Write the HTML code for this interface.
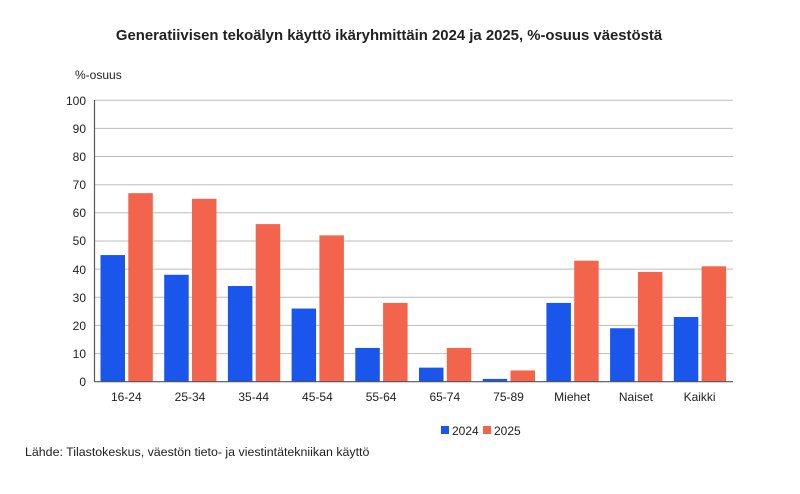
<!DOCTYPE html>
<html><head><style>
body{margin:0;background:#fff;}
svg text{font-family:"Liberation Sans",Arial,sans-serif;fill:#222;}
</style></head><body>
<svg width="800" height="489" viewBox="0 0 800 489">
<rect width="800" height="489" fill="#fff"/>
<text x="389" y="40" text-anchor="middle" font-size="14.9" font-weight="bold">Generatiivisen tekoälyn käyttö ikäryhmittäin 2024 ja 2025, %-osuus väestöstä</text>
<text x="75" y="79" font-size="12">%-osuus</text>
<g stroke="#bdbdbd" stroke-width="1">
<line x1="95" x2="733" y1="353.6" y2="353.6"/><line x1="95" x2="733" y1="325.4" y2="325.4"/>
<line x1="95" x2="733" y1="297.3" y2="297.3"/><line x1="95" x2="733" y1="269.1" y2="269.1"/>
<line x1="95" x2="733" y1="241" y2="241"/><line x1="95" x2="733" y1="212.8" y2="212.8"/>
<line x1="95" x2="733" y1="184.7" y2="184.7"/><line x1="95" x2="733" y1="156.5" y2="156.5"/>
<line x1="95" x2="733" y1="128.4" y2="128.4"/><line x1="95" x2="733" y1="100.3" y2="100.3"/>
</g>
<g font-size="12" text-anchor="end">
<text x="86" y="386">0</text><text x="86" y="358">10</text><text x="86" y="330">20</text>
<text x="86" y="302">30</text><text x="86" y="274">40</text><text x="86" y="245">50</text>
<text x="86" y="217">60</text><text x="86" y="189">70</text><text x="86" y="161">80</text>
<text x="86" y="133">90</text><text x="86" y="105">100</text>
</g>
<g id="bars"></g>
<line x1="94.5" x2="94.5" y1="100" y2="382" stroke="#555" stroke-width="1.2"/>
<line x1="94.5" x2="733" y1="381.7" y2="381.7" stroke="#555" stroke-width="1.2"/>
<g font-size="12" text-anchor="middle" id="labels"></g>
<rect x="441" y="426" width="8" height="8" fill="#1a56eb"/>
<text x="452" y="435" font-size="12">2024</text>
<rect x="483" y="426" width="8" height="8" fill="#f2654c"/>
<text x="494" y="435" font-size="12">2025</text>
<text x="25" y="456" font-size="12.4">Lähde: Tilastokeskus, väestön tieto- ja viestintätekniikan käyttö</text>
</svg>
<script>
var d=[["16-24",45,67],["25-34",38,65],["35-44",34,56],["45-54",26,52],["55-64",12,28],["65-74",5,12],["75-89",1,4],["Miehet",28,43],["Naiset",19,39],["Kaikki",23,41]];
var ns="http://www.w3.org/2000/svg",b=document.getElementById("bars"),l=document.getElementById("labels");
d.forEach(function(r,i){var x0=94.5+i*63.7;
[[r[1],x0+6,"#1a56eb"],[r[2],x0+33.8,"#f2654c"]].forEach(function(s){var h=s[0]*2.814;var e=document.createElementNS(ns,"rect");
e.setAttribute("x",s[1]);e.setAttribute("width",24.5);e.setAttribute("y",381.7-h);e.setAttribute("height",h);e.setAttribute("fill",s[2]);b.appendChild(e);});
var t=document.createElementNS(ns,"text");t.setAttribute("x",x0+31.8);t.setAttribute("y",401);t.textContent=r[0];l.appendChild(t);});
</script>
</body></html>
